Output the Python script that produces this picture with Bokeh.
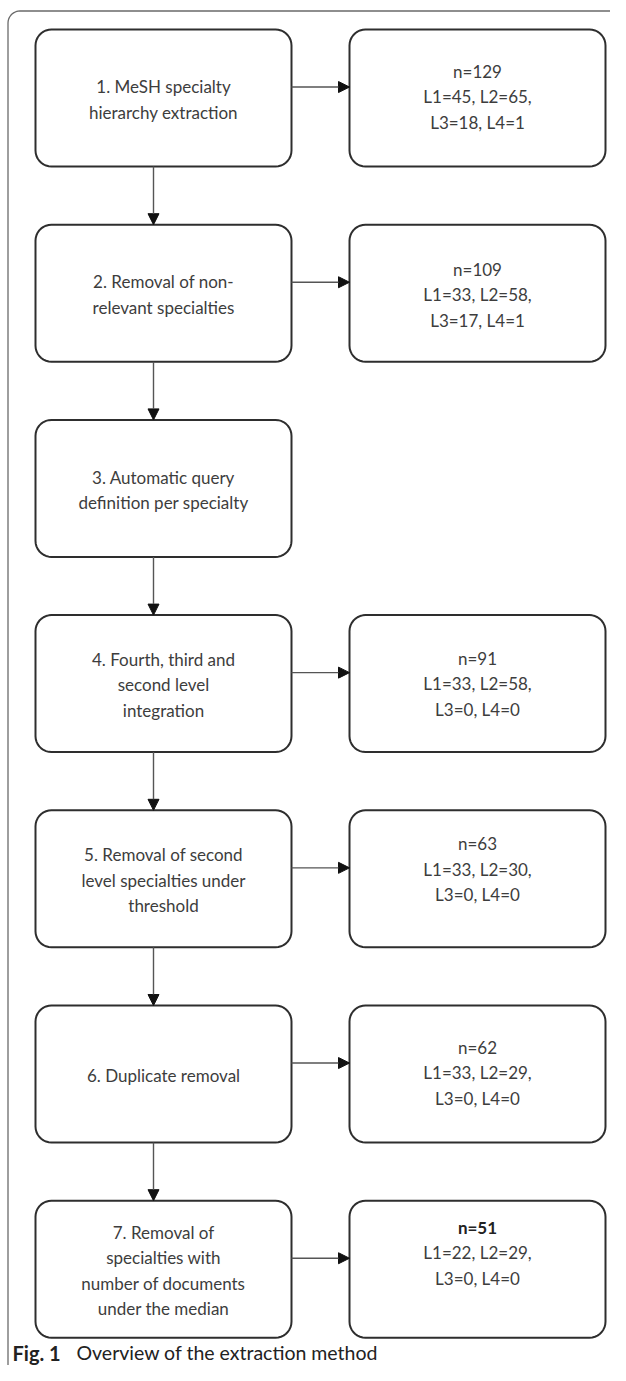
import numpy as np
from bokeh.plotting import figure
from bokeh.models import Range1d, ColumnDataSource, Arrow, NormalHead
from bokeh.core.properties import value
from bokeh.embed import file_html
from bokeh.resources import INLINE

# ---------------- data ----------------
steps = [
    "1. MeSH specialty\nhierarchy extraction",
    "2. Removal of non-\nrelevant specialties",
    "3. Automatic query\ndefinition per specialty",
    "4. Fourth, third and\nsecond level\nintegration",
    "5. Removal of second\nlevel specialties under\nthreshold",
    "6. Duplicate removal",
    "7. Removal of\nspecialties with\nnumber of documents\nunder the median",
]
n_total = [129, 109, None, 91, 63, 62, 51]
l1 = [45, 33, None, 33, 33, 33, 22]
l2 = [65, 58, None, 58, 30, 29, 29]
l3 = [18, 17, None, 0, 0, 0, 0]
l4 = [1, 1, None, 0, 0, 0, 0]
caption_bold = "Fig. 1"
caption_text = "Overview of the extraction method"

# ---------------- layout ----------------
W, H = 610, 1365
LX0, LX1 = 35, 291
RX0, RX1 = 349, 605
TOP0, PITCH, BOX_H = 29, 195.2, 137
ARROW_X = 153
ARROW_FRAC = 0.42
LINE_H = 25.5
LEFT_FRAC = 0.51
RIGHT_FRAC = [0.49, 0.51, 0.5, 0.50, 0.43, 0.49, 0.38]
FONT = value("Lato")
FS = "17px"
TXT_COL = "#3d3d3d"
BOX_COL = "#2e2e2e"


def rounded(x0, y0, x1, y1, r, n=10):
    xs, ys = [], []
    corners = [(x1 - r, y0 + r, -90, 0), (x1 - r, y1 - r, 0, 90),
               (x0 + r, y1 - r, 90, 180), (x0 + r, y0 + r, 180, 270)]
    for cx, cy, a0, a1 in corners:
        t = np.radians(np.linspace(a0, a1, n))
        xs.extend(cx + r * np.cos(t))
        ys.extend(cy + r * np.sin(t))
    return list(xs), list(ys)


p = figure(width=W, height=H, output_backend="svg", toolbar_location=None,
           x_range=Range1d(0, W), y_range=Range1d(H, 0),
           min_border=0, outline_line_color=None, background_fill_color="white")
p.axis.visible = False
p.grid.visible = False

# outer frame (extends past right/bottom edge, clipped)
fx, fy = rounded(7.5, 10.5, 660, 1400, 12)
p.patch(fx, fy, fill_color=None, line_color="#6a6a6a", line_width=1.3)

box_xs, box_ys = [], []
txt_x, txt_y, txt_s = [], [], []
rtx, rty, rts = [], [], []
bx, by, bs = [], [], []
arr = dict(xs=[], ys=[], xe=[], ye=[])

for i, label in enumerate(steps):
    top = TOP0 + PITCH * i
    bot = top + BOX_H
    xs, ys = rounded(LX0, top, LX1, bot, 16)
    box_xs.append(xs); box_ys.append(ys)
    lines = label.split("\n")
    cy = top + BOX_H * LEFT_FRAC
    for k, ln in enumerate(lines):
        txt_x.append((LX0 + LX1) / 2)
        txt_y.append(cy + (k - (len(lines) - 1) / 2) * LINE_H)
        txt_s.append(ln)
    if i < len(steps) - 1:
        arr["xs"].append(ARROW_X); arr["ys"].append(bot)
        arr["xe"].append(ARROW_X); arr["ye"].append(TOP0 + PITCH * (i + 1))
    if n_total[i] is not None:
        xs, ys = rounded(RX0, top, RX1, bot, 16)
        box_xs.append(xs); box_ys.append(ys)
        ay = top + BOX_H * ARROW_FRAC
        arr["xs"].append(LX1); arr["ys"].append(ay)
        arr["xe"].append(RX0); arr["ye"].append(ay)
        rl = [f"n={n_total[i]}", f"L1={l1[i]}, L2={l2[i]},", f"L3={l3[i]}, L4={l4[i]}"]
        cy = top + BOX_H * RIGHT_FRAC[i]
        for k, ln in enumerate(rl):
            yy = cy + (k - 1) * LINE_H
            if k == 0 and i == len(steps) - 1:
                bx.append((RX0 + RX1) / 2); by.append(yy); bs.append(ln)
            else:
                rtx.append((RX0 + RX1) / 2); rty.append(yy); rts.append(ln)

p.patches(box_xs, box_ys, fill_color="white", line_color=BOX_COL, line_width=2)

asrc = ColumnDataSource(arr)
p.add_layout(Arrow(end=NormalHead(size=11, fill_color="#111111", line_color="#111111", line_width=1),
                   x_start="xs", y_start="ys", x_end="xe", y_end="ye", source=asrc,
                   line_color="#555555", line_width=1.4))

p.text(txt_x, txt_y, text=txt_s, text_font=FONT, text_font_size=FS, text_color=TXT_COL,
       text_align="center", text_baseline="middle")
p.text(rtx, rty, text=rts, text_font=FONT, text_font_size=FS, text_color=TXT_COL,
       text_align="center", text_baseline="middle")
p.text(bx, by, text=bs, text_font=FONT, text_font_size=FS, text_color="#222222",
       text_font_style="bold", text_align="center", text_baseline="middle")

# caption
p.text([12], [1352], text=[caption_bold], text_font=FONT, text_font_size="20px",
       text_font_style="bold", text_color="#222222", text_baseline="middle")
p.text([76], [1352], text=[caption_text], text_font=FONT, text_font_size="19.5px",
       text_color="#222222", text_baseline="middle")

open("out.html", "w").write(file_html(p, INLINE))
